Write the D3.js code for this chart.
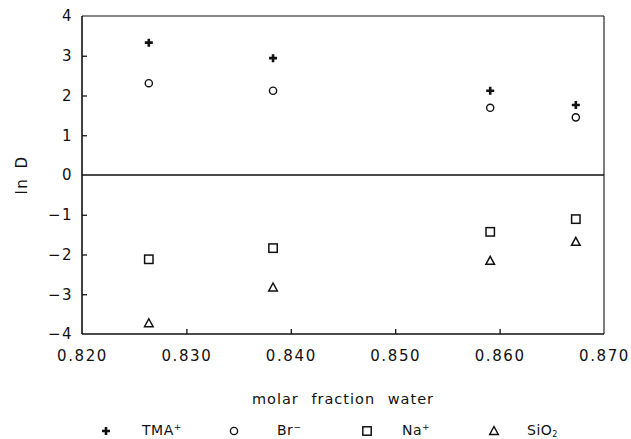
<!DOCTYPE html>
<html lang="en">
  <head>
    <meta charset="utf-8" />
    <script src="https://d3js.org/d3.v7.min.js"></script>
    <style>
      body {
        margin: 0;
        background-color: #fff;
      }
      svg text {
        font-family: "DejaVu Sans", sans-serif;
        fill: #111;
      }
      .axis path.domain {
        display: none;
      }
      .axis line {
        stroke: #111;
        stroke-width: 1.3px;
      }
    </style>
  </head>
  <body>
    <div id="chart"></div>

    <script>
      const width = 631;
      const height = 439;

      // donnees
      const xWater = [0.8264, 0.8383, 0.8591, 0.8673];
      const tma = [3.33, 2.94, 2.12, 1.76];
      const br = [2.31, 2.12, 1.69, 1.45];
      const na = [-2.12, -1.84, -1.43, -1.11];
      const sio2 = [-3.73, -2.83, -2.16, -1.68];

      const xTicks = [0.82, 0.83, 0.84, 0.85, 0.86, 0.87];
      const yTicks = [-4, -3, -2, -1, 0, 1, 2, 3, 4];

      const seriesNames = ["TMA", "Br", "Na", "SiO"];
      const seriesValues = [tma, br, na, sio2];
      const seriesShapes = ["plus", "circle", "square", "triangle"];

      const margin = { top: 16, right: 27, bottom: 105, left: 82 };
      const innerW = width - margin.left - margin.right;
      const innerH = height - margin.top - margin.bottom;

      const svg = d3
        .select("#chart")
        .append("svg")
        .attr("width", width)
        .attr("height", height);

      const g = svg
        .append("g")
        .attr("transform", `translate(${margin.left},${margin.top})`);

      const x = d3.scaleLinear().domain([0.82, 0.87]).range([0, innerW]);
      const y = d3.scaleLinear().domain([-4, 4]).range([innerH, 0]);

      // cadre
      g.append("line")
        .attr("x1", 0).attr("x2", innerW)
        .attr("y1", 0).attr("y2", 0)
        .attr("stroke", "#111").attr("stroke-width", 1.2);
      g.append("line")
        .attr("x1", innerW).attr("x2", innerW)
        .attr("y1", 0).attr("y2", innerH)
        .attr("stroke", "#111").attr("stroke-width", 1.1);
      g.append("line")
        .attr("x1", 0).attr("x2", 0)
        .attr("y1", 0).attr("y2", innerH)
        .attr("stroke", "#111").attr("stroke-width", 1.6);
      g.append("line")
        .attr("x1", 0).attr("x2", innerW)
        .attr("y1", innerH).attr("y2", innerH)
        .attr("stroke", "#111").attr("stroke-width", 1.6);

      // ligne zero
      g.append("line")
        .attr("x1", 0).attr("x2", innerW)
        .attr("y1", y(0)).attr("y2", y(0))
        .attr("stroke", "#111").attr("stroke-width", 1.4);

      const xAxis = g
        .append("g")
        .attr("class", "axis")
        .attr("transform", `translate(0,${innerH})`)
        .call(
          d3.axisBottom(x)
            .tickValues(xTicks)
            .tickFormat(d3.format(".3f"))
            .tickSizeInner(-5)
            .tickSizeOuter(0)
            .tickPadding(16)
        );
      xAxis.selectAll("text")
        .attr("font-size", 15)
        .attr("letter-spacing", "1.6px");
      xAxis.selectAll(".tick")
        .filter((d) => d === 0.82 || d === 0.87)
        .select("line")
        .remove();

      const yAxis = g
        .append("g")
        .attr("class", "axis")
        .call(
          d3.axisLeft(y)
            .tickValues(yTicks)
            .tickFormat(d3.format("d"))
            .tickSizeInner(-5)
            .tickSizeOuter(0)
            .tickPadding(9)
        );
      yAxis.selectAll("text")
        .attr("font-size", 15)
        .attr("letter-spacing", "1.5px");
      yAxis.selectAll(".tick")
        .filter((d) => d === 4 || d === -4 || d === 0)
        .select("line")
        .remove();

      // titres des axes
      svg.append("text")
        .attr("transform", `translate(27,${margin.top + y(0)}) rotate(-90)`)
        .attr("text-anchor", "middle")
        .attr("font-size", 15)
        .attr("letter-spacing", "1.5px")
        .attr("word-spacing", "3px")
        .text("ln D");

      svg.append("text")
        .attr("x", 343)
        .attr("y", 404)
        .attr("text-anchor", "middle")
        .attr("font-size", 14.5)
        .attr("word-spacing", "7px")
        .attr("letter-spacing", "1px")
        .text("molar fraction water");

      function drawMarker(sel, shape) {
        if (shape === "plus") {
          sel.append("path")
            .attr("d", "M-4,0H4M0,-4V4")
            .attr("stroke", "#111")
            .attr("stroke-width", 2.6)
            .attr("fill", "none");
        } else if (shape === "circle") {
          sel.append("circle")
            .attr("r", 3.6)
            .attr("fill", "none")
            .attr("stroke", "#111")
            .attr("stroke-width", 1.4);
        } else if (shape === "square") {
          sel.append("rect")
            .attr("x", -4.2).attr("y", -4.2)
            .attr("width", 8.4).attr("height", 8.4)
            .attr("fill", "none")
            .attr("stroke", "#111")
            .attr("stroke-width", 1.5);
        } else {
          sel.append("path")
            .attr("d", "M0,-4.5L4.3,3.5L-4.3,3.5Z")
            .attr("fill", "none")
            .attr("stroke", "#111")
            .attr("stroke-width", 1.5);
        }
      }

      seriesValues.forEach((vals, i) => {
        const pts = vals.map((v, j) => ({ x: xWater[j], y: v }));
        g.selectAll(".pt" + i)
          .data(pts)
          .join("g")
          .attr("class", "pt" + i)
          .attr("transform", (d) => `translate(${x(d.x)},${y(d.y)})`)
          .each(function () {
            drawMarker(d3.select(this), seriesShapes[i]);
          });
      });

      // legende
      const legendMarkX = [106, 234, 367, 494];
      const legendTextX = [142, 277, 402, 527];
      const legendSup = ["+", "\u2212", "+", null];
      seriesNames.forEach((name, i) => {
        const lg = svg.append("g")
          .attr("transform", `translate(${legendMarkX[i]},431)`);
        drawMarker(lg, seriesShapes[i]);
        const t = svg.append("text")
          .attr("x", legendTextX[i])
          .attr("y", 435)
          .attr("font-size", 14)
          .attr("letter-spacing", "0.5px")
          .text(name);
        if (legendSup[i]) {
          t.append("tspan")
            .attr("dy", -5)
            .attr("font-size", 9)
            .text(legendSup[i]);
        } else {
          t.append("tspan")
            .attr("dy", 2)
            .attr("font-size", 8)
            .text("2");
        }
      });
    </script>
  </body>
</html>
